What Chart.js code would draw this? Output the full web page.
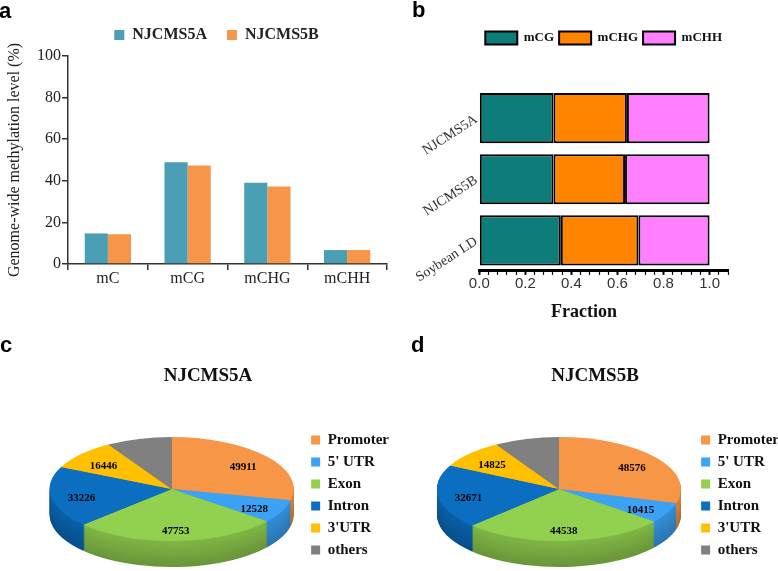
<!DOCTYPE html>
<html>
<head>
<meta charset="utf-8">
<script src="https://cdn.jsdelivr.net/npm/chart.js@4.4.0/dist/chart.umd.min.js"></script>
<style>
html,body{margin:0;padding:0;background:#fff;}
body{width:778px;height:571px;overflow:hidden;position:relative;}
canvas{position:absolute;}
.lbl{position:absolute;font:bold 22px "Liberation Sans",Arial,sans-serif;line-height:1;color:#000;}
</style>
</head>
<body>
<canvas id="ca" width="433" height="290" style="left:0;top:0;width:433px;height:290px"></canvas>
<canvas id="cb" width="388" height="330" style="left:390px;top:0;width:388px;height:330px"></canvas>
<canvas id="cc" width="405" height="300" style="left:0;top:340px;width:405px;height:300px"></canvas>
<canvas id="cd" width="405" height="300" style="left:390px;top:340px;width:405px;height:300px"></canvas>
<div class="lbl" style="left:-1px;top:0px">a</div>
<div class="lbl" style="left:412px;top:-1px">b</div>
<div class="lbl" style="left:0px;top:334px">c</div>
<div class="lbl" style="left:411px;top:334px">d</div>
<script>
// ---------- data ----------
const methCategories = ['mC', 'mCG', 'mCHG', 'mCHH'];
const levelA = [14.7, 48.9, 39.1, 6.7];   // NJCMS5A
const levelB = [14.3, 47.4, 37.2, 6.7];   // NJCMS5B
const seriesNamesA = ['NJCMS5A', 'NJCMS5B'];

const fracSamples = ['NJCMS5A', 'NJCMS5B', 'Soybean LD'];
const contextNames = ['mCG', 'mCHG', 'mCHH'];
const fracCG  = [0.322, 0.322, 0.354];
const fracCHG = [0.319, 0.311, 0.337];
const fracCHH = [0.359, 0.367, 0.309];
const fracMajorTicks = [0.0, 0.2, 0.4, 0.6, 0.8, 1.0];

const regions = ['Promoter', "5' UTR", 'Exon', 'Intron', "3'UTR", 'others'];
const countsA = [49911, 12528, 47753, 33226, 16446, 15200];
const countsB = [48576, 10415, 44538, 32671, 14825, 14200];
const countShown = [true, true, true, true, true, false];

// ---------- styles ----------
const SERIF = '"Liberation Serif", "Times New Roman", serif';
const SANS = '"Liberation Sans", Arial, sans-serif';
const BAR_COLORS = ['#4A9FB5', '#F7964A'];
const FRAC_COLORS = ['#0E7C78', '#FF8400', '#FF80FF'];
const PIE_COLORS = ['#F79646', '#3BA2F5', '#92D050', '#0B6EC0', '#FFC000', '#808080'];

Chart.defaults.font.family = SERIF;
Chart.defaults.color = '#222';

function shade(hex, f) {
  const n = parseInt(hex.slice(1), 16);
  const r = Math.round(((n >> 16) & 255) * f);
  const g = Math.round(((n >> 8) & 255) * f);
  const b = Math.round((n & 255) * f);
  return 'rgb(' + r + ',' + g + ',' + b + ')';
}

// ---------- panel a ----------
new Chart(document.getElementById('ca'), {
  type: 'bar',
  data: {
    labels: methCategories,
    datasets: [
      {label: seriesNamesA[0], data: levelA, backgroundColor: BAR_COLORS[0], borderWidth: 0, categoryPercentage: 0.58, barPercentage: 1},
      {label: seriesNamesA[1], data: levelB, backgroundColor: BAR_COLORS[1], borderWidth: 0, categoryPercentage: 0.58, barPercentage: 1}
    ]
  },
  options: {
    responsive: false, animation: false, devicePixelRatio: 1,
    layout: {padding: {top: 0, left: 0, right: 0, bottom: 0}},
    plugins: {
      legend: {position: 'top',
        labels: {boxWidth: 10, boxHeight: 10, padding: 20, color: '#222', font: {family: SERIF, size: 16, weight: 'bold'}}},
      subtitle: {display: true, text: '', position: 'top', weight: 500, font: {size: 3, lineHeight: 1}, padding: {top: 0, bottom: 0}},
      tooltip: {enabled: false}
    },
    scales: {
      x: {
        grid: {display: true, drawOnChartArea: false, drawTicks: true, tickLength: 6, color: '#333', lineWidth: 1.5, offset: true},
        border: {display: true, color: '#333', width: 1.5},
        ticks: {font: {family: SERIF, size: 16}, color: '#222', padding: -1, maxRotation: 0},
        afterFit(s) { s.height = 26; s.paddingRight = 46; }
      },
      y: {
        min: 0, max: 100,
        grid: {display: true, drawOnChartArea: false, drawTicks: true, tickLength: 6, color: '#333', lineWidth: 1.5},
        border: {display: true, color: '#333', width: 1.5},
        ticks: {stepSize: 20, font: {family: SERIF, size: 16}, color: '#222', padding: 1},
        title: {display: true, text: 'Genome-wide methylation level (%)', font: {family: SERIF, size: 16}, color: '#222', padding: {top: 5, bottom: 0}},
        afterFit(s) { s.width = 68; s.paddingTop = 56; }
      }
    }
  }
});

// ---------- panel b ----------
function isMajor(v) { return fracMajorTicks.some(m => Math.abs(m - v) < 1e-6); }
new Chart(document.getElementById('cb'), {
  type: 'bar',
  data: {
    labels: fracSamples,
    datasets: [
      {label: contextNames[0], data: fracCG, backgroundColor: FRAC_COLORS[0]},
      {label: contextNames[1], data: fracCHG, backgroundColor: FRAC_COLORS[1]},
      {label: contextNames[2], data: fracCHH, backgroundColor: FRAC_COLORS[2]}
    ]
  },
  options: {
    indexAxis: 'y',
    responsive: false, animation: false, devicePixelRatio: 1,
    elements: {bar: {borderColor: '#000', borderWidth: 2, borderSkipped: false}},
    datasets: {bar: {categoryPercentage: 0.82, barPercentage: 1}},
    layout: {padding: {top: 26.5, left: 0, right: 0, bottom: 0}},
    plugins: {
      legend: {position: 'top', fullSize: false,
        labels: {boxWidth: 32, boxHeight: 13, padding: 5, color: '#111', font: {family: SERIF, size: 13, weight: 'bold'}}},
      subtitle: {display: true, text: '', position: 'top', weight: 500, font: {size: 10, lineHeight: 1}, padding: {top: 23, bottom: 0}},
      title: {display: true, position: 'bottom', text: 'Fraction', color: '#111',
        font: {family: SERIF, size: 18, weight: 'bold'}, padding: {top: 5, bottom: 7}},
      tooltip: {enabled: false}
    },
    scales: {
      x: {
        stacked: true, min: 0, max: 1.08,
        afterBuildTicks(s) {
          const t = [];
          for (let i = 0; i <= 27; i++) t.push({value: i * 4 / 100});
          s.ticks = t;
        },
        ticks: {autoSkip: false, maxRotation: 0, padding: 0, color: '#333', font: {family: SANS, size: 15},
          callback: v => isMajor(v) ? v.toFixed(1) : ''},
        grid: {display: true, drawOnChartArea: false, drawTicks: true, tickLength: 4, color: '#000',
          tickWidth: c => isMajor(c.tick.value) ? 2 : 1.2},
        border: {display: true, color: '#000', width: 3},
        afterFit(s) { s.height = 25.5; s.paddingRight = 50; s.paddingLeft = 0; }
      },
      y: {
        stacked: true,
        grid: {display: false, drawTicks: false},
        border: {display: false},
        ticks: {minRotation: 33, maxRotation: 33, padding: 3, color: '#333', font: {family: SERIF, size: 14}},
        afterFit(s) { s.width = 89.3; s.paddingTop = 87.5; s.paddingBottom = 0; }
      }
    }
  }
});

// ---------- panels c, d : 3D-looking pies ----------
const pie3d = {
  id: 'pie3d',
  beforeDatasetsDraw(chart, args, o) {
    const ctx = chart.ctx;
    const arcs = chart.getDatasetMeta(0).data;
    const cx = arcs[0].x, cy = arcs[0].y;
    const cols = chart.data.datasets[0].backgroundColor;
    ctx.save();
    for (let d = o.depth; d >= 1; d--) {
      const f = 0.88 - 0.16 * (d / o.depth);
      ctx.save();
      ctx.translate(o.cx, o.cy + d);
      ctx.scale(1, o.squash);
      ctx.translate(-cx, -cy);
      arcs.forEach((arc, i) => {
        ctx.beginPath();
        ctx.moveTo(cx, cy);
        ctx.arc(cx, cy, arc.outerRadius, arc.startAngle, arc.endAngle);
        ctx.closePath();
        ctx.fillStyle = shade(cols[i], f);
        ctx.fill();
      });
      ctx.restore();
    }
    ctx.translate(o.cx, o.cy);
    ctx.scale(1, o.squash);
    ctx.translate(-cx, -cy);
  },
  afterDatasetsDraw(chart, args, o) {
    const ctx = chart.ctx;
    ctx.restore();
    const meta = chart.getDatasetMeta(0);
    const values = chart.data.datasets[0].data;
    ctx.save();
    ctx.font = 'bold 11px ' + SERIF;
    ctx.fillStyle = '#000';
    ctx.textAlign = 'center';
    ctx.textBaseline = 'middle';
    meta.data.forEach((arc, i) => {
      if (!countShown[i]) return;
      const mid = (arc.startAngle + arc.endAngle) / 2;
      const r = arc.outerRadius * o.labelRadius;
      const x = o.cx + r * Math.cos(mid);
      const y = o.cy + r * Math.sin(mid) * o.squash + o.labelDy;
      ctx.fillText(String(values[i]), x, y);
    });
    ctx.restore();
  }
};

function pieChart(id, title, counts, padLeft, cx) {
  return new Chart(document.getElementById(id), {
    type: 'pie',
    data: {labels: regions, datasets: [{data: counts, backgroundColor: PIE_COLORS, borderWidth: 0, radius: 122, clip: false, hoverOffset: 0}]},
    options: {
      responsive: false, animation: false, devicePixelRatio: 1,
      events: [],
      layout: {padding: {left: padLeft, right: 6, top: 0, bottom: 0}},
      plugins: {
        title: {display: true, text: title, color: '#111', font: {family: SERIF, size: 19, weight: 'bold'}, padding: {top: 25, bottom: 0}},
        legend: {position: 'right', align: 'start', fullSize: false,
          title: {display: true, text: ' ', font: {size: 10, lineHeight: 1.2}, padding: {top: 25.7, bottom: 0}},
          labels: {boxWidth: 9, boxHeight: 9, padding: 7, color: '#111', font: {family: SERIF, size: 15, weight: 'bold'}}},
        tooltip: {enabled: false},
        pie3d: {cx: cx, cy: 149, squash: 0.426, depth: 26, labelRadius: 0.75, labelDy: 3}
      }
    },
    plugins: [pie3d]
  });
}
pieChart('cc', 'NJCMS5A', countsA, 17, 171.7);
pieChart('cd', 'NJCMS5B', countsB, 11, 169);
</script>
</body>
</html>
